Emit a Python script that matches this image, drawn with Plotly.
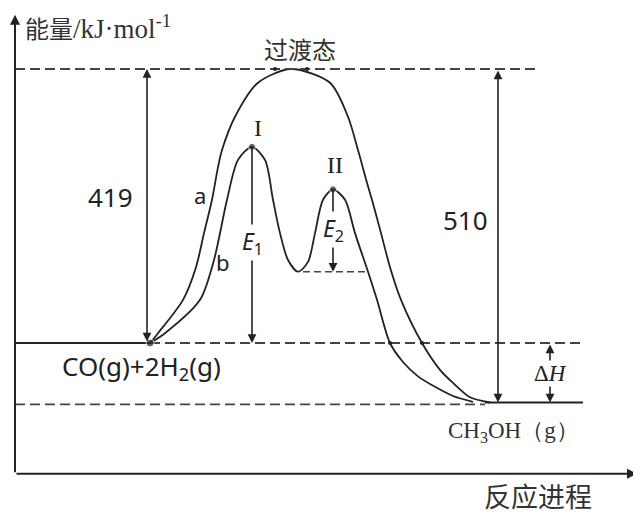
import plotly.graph_objects as go

# ---- data (x: reaction progress, arbitrary units; y: energy, kJ/mol) ----
e_reactant = 0
ea_a = 419            # activation energy of path a
ea_reverse = 510      # reverse activation energy
e_ts = e_reactant + ea_a
e_product = e_ts - ea_reverse   # ΔH = -91

path_a_x = [135, 143, 168, 181, 189, 197, 203, 207, 220, 243, 276, 315, 333,
            343, 352, 357, 366, 375, 386, 407, 425, 438, 455, 475]
path_a_e = [0, 15, 66, 116, 168, 219, 269, 295, 346, 398, 419, 398, 346,
            295, 245, 219, 168, 116, 66, 0, -41, -61, -83, -91]

path_b_x = [135, 150, 185, 199, 212, 223, 237, 250, 258, 265, 273, 283,
            293, 300, 308, 318, 330, 340, 353, 362, 375, 388, 403, 420, 438, 458]
path_b_e = [0, 15, 66, 127, 219, 280, 300, 280, 219, 168, 127, 109,
            124, 168, 219, 235, 219, 168, 109, 66, 0, -29, -51, -67, -81, -90]

peak_I = (237, 300)
valley = (283, 109)
peak_II = (318, 235)
product_line_x = [470, 568]
level_end_x = 568

axis_y_bottom = -200
axis_y_top = 502
axis_x_end = 622

INK = "#222222"
fig = go.Figure()

# curves
for xs, es in ((path_a_x, path_a_e), (path_b_x, path_b_e)):
    fig.add_trace(go.Scatter(x=xs, y=es, mode="lines",
                             line=dict(color=INK, width=1.8, shape="spline", smoothing=0.8),
                             hoverinfo="skip"))
# product level solid
fig.add_trace(go.Scatter(x=product_line_x, y=[e_product, e_product], mode="lines",
                         line=dict(color=INK, width=1.8), hoverinfo="skip"))
# reactant level solid part
fig.add_trace(go.Scatter(x=[0, path_a_x[0]], y=[e_reactant, e_reactant], mode="lines",
                         line=dict(color=INK, width=1.8), hoverinfo="skip"))

dash = "10px,5px"
DASH_C = "#444444"
# dashed levels
fig.add_trace(go.Scatter(x=[0, 525], y=[e_ts, e_ts], mode="lines",
                         line=dict(color=DASH_C, width=1.8, dash=dash), hoverinfo="skip"))
fig.add_trace(go.Scatter(x=[path_a_x[0], level_end_x], y=[e_reactant, e_reactant], mode="lines",
                         line=dict(color=DASH_C, width=1.8, dash=dash), hoverinfo="skip"))
fig.add_trace(go.Scatter(x=[0, product_line_x[0]], y=[e_product - 3, e_product - 3], mode="lines",
                         line=dict(color=DASH_C, width=1.8, dash=dash), hoverinfo="skip"))
fig.add_trace(go.Scatter(x=[valley[0] + 5, 353], y=[valley[1], valley[1]], mode="lines",
                         line=dict(color=DASH_C, width=1.6, dash="7px,4px"), hoverinfo="skip"))

# dots
fig.add_trace(go.Scatter(x=[peak_I[0], peak_II[0], path_a_x[0]], y=[peak_I[1], peak_II[1], e_reactant],
                         mode="markers", marker=dict(color=INK, size=[7, 7, 8]), hoverinfo="skip"))
fig.add_trace(go.Scatter(x=[260, 292, 375, 407], y=[e_ts, e_ts, e_reactant, e_reactant],
                         mode="markers", marker=dict(color=INK, size=4), hoverinfo="skip"))

def arrow(x, y_from, y_to, both=False):
    fig.add_annotation(x=x, y=y_to, ax=x, ay=y_from, xref="x", yref="y", axref="x", ayref="y",
                       showarrow=True, arrowhead=2, arrowsize=1.1, arrowwidth=1.6,
                       arrowcolor=INK, text="",
                       arrowside="end+start" if both else "end", startarrowhead=2,
                       startarrowsize=1.1)

arrow(132, e_reactant, e_ts, both=True)
arrow(483, e_ts, e_product, both=True)
arrow(peak_I[0], peak_I[1], e_reactant)
arrow(peak_II[0], peak_II[1], valley[1])
arrow(535, e_reactant, e_product, both=True)

# axes with arrows
fig.add_annotation(x=0, y=axis_y_top, ax=0, ay=axis_y_bottom, xref="x", yref="y", axref="x", ayref="y",
                   showarrow=True, arrowhead=2, arrowsize=1.0, arrowwidth=2, arrowcolor=INK, text="")
fig.add_annotation(x=axis_x_end, y=axis_y_bottom, ax=0, ay=axis_y_bottom, xref="x", yref="y", axref="x", ayref="y",
                   showarrow=True, arrowhead=2, arrowsize=1.0, arrowwidth=2, arrowcolor=INK, text="")

def label(x, y, text, size=22, family="Noto Sans", color="#222222", bg=None, xanchor="center"):
    fig.add_annotation(x=x, y=y, xref="x", yref="y", text=text, showarrow=False,
                       font=dict(size=size, family=family, color=color),
                       bgcolor=bg, xanchor=xanchor, yanchor="middle", borderpad=0)

CJK = "Noto Sans CJK SC"
SERIF = "Liberation Serif"
label(9, 483, '能量<span style="font-family:Liberation Serif;font-size:27px">/kJ·mol<sup>-1</sup></span>',
      size=24, family=CJK, xanchor="left", color="#333333")
label(285, 451, "过渡态", size=24, family=CJK, color="#333333")
label(95, 223, "419", size=26)
label(450, 188, "510", size=26)
label(185, 226, "a", size=22)
label(208, 124, "b", size=22)
label(243, 329, "I", size=24, family=SERIF)
label(320, 272, "II", size=24, family=SERIF)
label(237, 153, "<i>E</i><sub>1</sub>", size=23, bg="white")
label(318, 173, "<i>E</i><sub>2</sub>", size=23, bg="white")
label(126, -37, "CO(g)+2H<sub>2</sub>(g)", size=26)
label(498, -136, "CH<sub>3</sub>OH（g）", size=23, family=SERIF, color="#333333")
label(535, -46, "Δ<i>H</i>", size=23, family=SERIF, bg="white")
label(523, -233, "反应进程", size=27, family=CJK, color="#333333")

fig.update_layout(
    width=633, height=506, showlegend=False,
    margin=dict(l=0, r=0, t=0, b=0),
    paper_bgcolor="white", plot_bgcolor="white",
    xaxis=dict(range=[-7, 626], visible=False, fixedrange=True),
    yaxis=dict(range=[-261.5, 512.3], visible=False, fixedrange=True),
)
fig.write_html("out.html")
